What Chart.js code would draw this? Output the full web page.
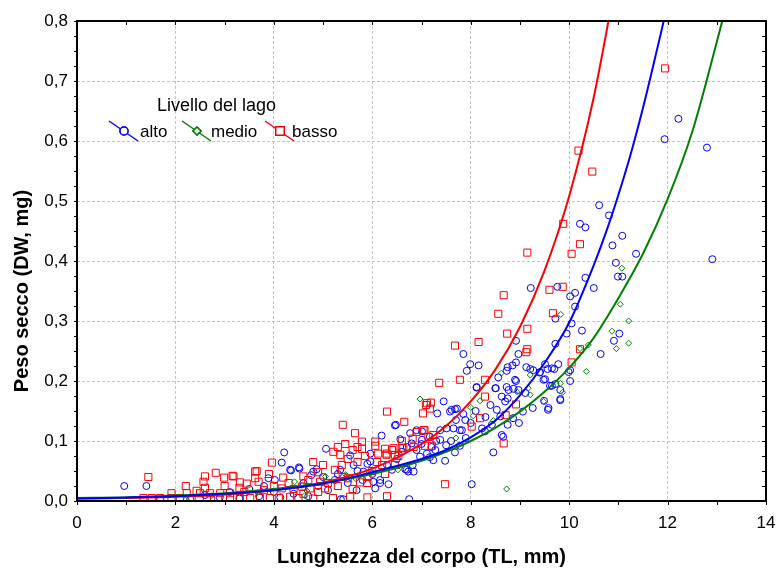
<!DOCTYPE html>
<html lang="it">
<head>
<meta charset="UTF-8">
<script src="https://cdn.jsdelivr.net/npm/chart.js"></script>
<style>
  body { margin: 0; background: #fff; }
  #wrap { width: 777px; height: 572px; }
</style>
</head>
<body>
<div id="wrap"><canvas id="chart" width="777" height="572"></canvas></div>
<script>
// tick labels
const xTickLabels = ["0", "2", "4", "6", "8", "10", "12", "14"];
const yTickLabels = ["0,0", "0,1", "0,2", "0,3", "0,4", "0,5", "0,6", "0,7", "0,8"];
const seriesNames = ["alto", "medio", "basso"];

// alto (blue circles): [TL mm, DW mg]
const altoPts = [
  [12.22,0.637],[11.94,0.603],[12.80,0.589],[12.91,0.403],
  [10.61,0.493],[10.81,0.476],[10.22,0.462],[10.33,0.456],[11.08,0.442],[10.88,0.426],[11.36,0.412],
  [10.95,0.397],[10.99,0.374],[11.08,0.374],[10.33,0.372],[10.50,0.355],[9.22,0.355],[9.76,0.357],
  [10.12,0.347],[10.02,0.341],[10.12,0.324],[9.72,0.304],[10.05,0.296],[9.95,0.279],[10.26,0.284],
  [11.02,0.279],[10.91,0.267],[9.72,0.262],[10.64,0.245],[8.92,0.267],[7.85,0.245],[8.97,0.245],
  [7.99,0.228],[8.16,0.226],[7.92,0.217],[8.75,0.223],[8.85,0.226],[8.92,0.231],[9.13,0.223],
  [9.21,0.220],[9.51,0.228],[9.56,0.220],[9.78,0.228],[9.70,0.220],[9.99,0.215],[10.02,0.200],
  [9.41,0.215],[9.51,0.203],[9.65,0.192],[9.72,0.195],[8.92,0.200],[8.56,0.206],[8.12,0.189],
  [8.51,0.188],[8.77,0.185],[8.87,0.187],[8.63,0.174],[8.70,0.166],[8.75,0.171],[9.26,0.155],
  [9.49,0.167],[9.57,0.152],[9.82,0.168],[8.53,0.152],[9.06,0.149],[8.60,0.141],[8.86,0.138],
  [8.98,0.130],[8.75,0.127],[8.43,0.127],[8.23,0.121],[8.29,0.116],[8.63,0.110],[8.66,0.107],
  [7.65,0.121],[7.82,0.118],[7.78,0.092],[8.46,0.081],[8.02,0.028],
  [8.73,0.217],[8.90,0.202],[8.73,0.190],[8.97,0.185],[9.11,0.180],[9.48,0.202],[9.61,0.192],
  [9.27,0.218],[9.40,0.214],[9.65,0.221],[9.82,0.185],[9.82,0.170],[9.58,0.155],[10.02,0.218],
  [7.45,0.166],[7.32,0.146],[7.61,0.152],[7.72,0.154],[7.85,0.145],[8.12,0.190],[7.48,0.067],
  [6.75,0.003],[5.41,0.003],[7.11,0.079],[7.24,0.068],[6.97,0.074],[6.70,0.052],[6.84,0.049],
  [6.02,0.032],[6.33,0.028],[6.16,0.035],[5.68,0.018],[6.06,0.021],[5.96,0.079],[5.62,0.060],
  [5.82,0.049],[7.01,0.102],[7.17,0.107],[7.38,0.118],[7.51,0.121],[6.70,0.090],[6.80,0.096],
  [6.48,0.127],[6.19,0.109],[6.57,0.103],[6.77,0.113],[7.58,0.149],[7.68,0.153],[7.78,0.118],
  [7.89,0.135],[6.90,0.118],[7.01,0.116],[6.46,0.126],[7.38,0.102],[7.50,0.093],[7.28,0.085],
  [7.17,0.073],[7.68,0.081],[6.82,0.060],[6.73,0.049],[6.67,0.053],[6.40,0.052],[8.50,0.188],
  [0.96,0.025],[1.41,0.025],[1.69,0.002],[3.89,0.038],[4.02,0.035],[4.21,0.081],[4.16,0.064],
  [4.51,0.056],[4.35,0.051],[5.06,0.087],[4.87,0.053],[5.55,0.076],[5.96,0.066],[4.33,0.052],
  [4.52,0.054],[4.76,0.043],[4.80,0.049],[5.36,0.003],[6.16,0.030],[4.13,0.006],[4.40,0.012],
  [5.24,0.035],[5.35,0.052],[2.30,0.003],[2.60,0.010],[2.90,0.006],[3.10,0.015],[3.30,0.004],
  [3.50,0.020],[3.70,0.008],[3.80,0.025],[4.00,0.015],[4.60,0.030],[4.70,0.008],[4.90,0.025],
  [5.00,0.040],[5.10,0.018],[5.30,0.045],[5.50,0.030],[5.70,0.050],[5.80,0.035],[5.90,0.062],
  [6.00,0.045],[6.30,0.060],[6.50,0.070],[6.60,0.082],[6.90,0.085],[7.00,0.095],[7.20,0.090],
  [7.30,0.100],[7.60,0.100],[7.90,0.105],[8.00,0.130],[8.30,0.140],[8.40,0.160],[8.10,0.150],
  [7.70,0.135]
];

// medio (green diamonds)
const medioPts = [
  [11.07,0.388],[11.04,0.328],[11.21,0.300],[9.83,0.311],[10.87,0.283],[11.21,0.263],[10.96,0.254],
  [10.22,0.254],[10.39,0.260],[10.35,0.216],[9.21,0.210],[8.62,0.213],[8.94,0.182],[9.17,0.188],
  [9.21,0.177],[8.19,0.167],[8.00,0.156],[8.05,0.142],[8.46,0.134],[9.48,0.166],[9.82,0.196],
  [9.87,0.181],[7.70,0.105],[8.73,0.020],[6.97,0.170],[6.52,0.052],[2.22,0.003],[2.74,0.009],
  [3.67,0.014],[4.42,0.032],[4.57,0.026],[4.67,0.017],[4.63,0.009],[5.05,0.041],[5.46,0.044],
  [5.67,0.037]
];

// basso (red squares)
const bassoPts = [
  [11.95,0.721],[10.19,0.584],[10.47,0.549],[9.88,0.462],[10.22,0.428],[10.05,0.412],[9.15,0.414],
  [9.60,0.352],[9.87,0.357],[8.67,0.343],[8.56,0.312],[9.67,0.313],[8.74,0.279],[9.15,0.287],
  [8.16,0.265],[7.68,0.259],[9.15,0.253],[9.13,0.248],[10.22,0.253],[10.05,0.231],[7.78,0.202],
  [8.29,0.202],[8.29,0.174],[8.92,0.161],[8.19,0.138],[8.02,0.124],[8.71,0.143],[8.67,0.096],
  [7.36,0.197],[7.09,0.160],[7.17,0.154],[7.03,0.146],[7.11,0.163],[7.19,0.164],[6.65,0.132],
  [6.30,0.149],[7.04,0.118],[6.82,0.104],[7.14,0.107],[7.21,0.092],[7.07,0.092],[6.60,0.089],
  [6.40,0.085],[6.26,0.087],[6.29,0.077],[6.53,0.075],[6.26,0.045],[6.46,0.060],[7.48,0.028],
  [5.40,0.127],[5.65,0.113],[5.79,0.099],[5.79,0.087],[5.21,0.082],[5.35,0.077],[5.38,0.060],
  [5.24,0.052],[6.06,0.092],[6.29,0.079],[6.12,0.079],[6.06,0.099],[6.43,0.088],[6.46,0.077],
  [6.84,0.090],[6.63,0.088],[7.24,0.110],[7.06,0.118],[5.30,0.090],[5.45,0.095],[5.70,0.090],
  [3.96,0.064],[4.19,0.039],[4.16,0.021],[4.33,0.007],[4.60,0.041],[4.57,0.024],[4.90,0.048],
  [4.94,0.032],[5.04,0.021],[5.51,0.038],[5.55,0.007],[5.75,0.031],[4.74,0.021],[1.45,0.040],
  [2.21,0.025],[2.82,0.047],[2.99,0.039],[3.16,0.042],[3.65,0.050],[2.60,0.041],[2.43,0.017],
  [2.57,0.032],[3.18,0.041],[3.31,0.031],[3.45,0.029],[3.62,0.049],[3.62,0.038],[3.69,0.032],
  [1.35,0.005],[1.52,0.005],[1.69,0.005],[1.92,0.005],[2.09,0.005],[2.33,0.005],[2.64,0.005],
  [2.87,0.005],[3.11,0.005],[3.31,0.005],[3.52,0.005],[3.72,0.005],[3.92,0.005],[4.10,0.005],
  [4.50,0.005],[4.80,0.004],[5.20,0.005],[5.90,0.006],[6.30,0.008],
  [1.92,0.013],[2.23,0.013],[2.50,0.013],[2.70,0.013],[2.91,0.013],[3.11,0.013],[3.40,0.015],
  [3.80,0.018],[4.00,0.025],[4.40,0.020],[4.60,0.012],[4.90,0.015],[5.10,0.030],[5.30,0.025],
  [5.60,0.020],[5.90,0.030],[6.00,0.050],[6.20,0.060],[5.70,0.065],[5.50,0.070],[5.00,0.060],
  [4.80,0.065],[5.60,0.085],[5.85,0.075],[6.60,0.100],[6.90,0.115],[6.10,0.065],[4.30,0.030],
  [3.90,0.045],[4.70,0.035],[5.40,0.040],[5.90,0.040],[3.00,0.025],[3.30,0.022],[2.60,0.022]
];

// fitted curves
const fitAlto = [[0,0.004],[1,0.006],[2,0.008],[3,0.012],[4,0.018],[5,0.029],[6,0.048],[7,0.070],
  [7.5,0.085],[8,0.106],[8.5,0.134],[9,0.176],[9.5,0.230],[10,0.297],[10.5,0.393],[10.75,0.448],
  [11,0.510],[11.25,0.578],[11.5,0.655],[11.75,0.740],[12,0.830],[12.2,0.920]];
const fitMedio = [[0,0.005],[1,0.006],[2,0.009],[3,0.013],[4,0.020],[5,0.030],[6,0.045],[7,0.067],
  [7.5,0.082],[8,0.100],[8.5,0.122],[9,0.149],[9.5,0.182],[10,0.222],[10.5,0.272],[11,0.338],
  [11.5,0.412],[12,0.503],[12.5,0.615],[13,0.765],[13.3,0.860]];
const fitBasso = [[0,0.004],[1,0.005],[2,0.007],[3,0.011],[4,0.018],[5,0.031],[6,0.054],[7,0.095],
  [7.5,0.125],[8,0.166],[8.5,0.219],[9,0.290],[9.5,0.384],[10,0.508],[10.5,0.673],[11,0.890]];

const BLUE = "#0000ff", GREEN = "#008000", RED = "#ff0000";
const FONT = "'Liberation Sans', Arial, sans-serif";
const toXY = pts => pts.map(p => ({ x: p[0], y: p[1] }));

function scatterSet(label, pts, color, style, radius, order) {
  return {
    label, data: toXY(pts), showLine: false, order,
    pointStyle: style, pointRadius: radius, pointHoverRadius: radius,
    pointBorderColor: color, pointBackgroundColor: "rgba(0,0,0,0)", pointBorderWidth: 1
  };
}
function curveSet(pts, color) {
  return {
    data: toXY(pts), showLine: true, order: 0, borderColor: color, borderWidth: 2,
    pointRadius: 0, cubicInterpolationMode: "monotone", fill: false
  };
}

// frame, small ticks, legend and axis titles
const decor = {
  id: "decor",
  afterDraw(chart) {
    const { ctx, chartArea: a, scales: { x, y } } = chart;
    ctx.save();
    ctx.strokeStyle = "#000";
    ctx.lineWidth = 1;
    ctx.beginPath();
    for (let v = 0; v <= 14; v++) {
      const px = Math.round(x.getPixelForValue(v)) + 0.5;
      ctx.moveTo(px, a.bottom); ctx.lineTo(px, a.bottom + 4);
      ctx.moveTo(px, a.top); ctx.lineTo(px, a.top + 4);
    }
    for (let i = 0; i <= 32; i++) {
      const py = Math.round(y.getPixelForValue(i * 0.025)) + 0.5;
      ctx.moveTo(a.left - 3, py); ctx.lineTo(a.left, py);
      ctx.moveTo(a.right - 4, py); ctx.lineTo(a.right, py);
    }
    ctx.stroke();
    ctx.lineWidth = 2;
    ctx.strokeRect(a.left, a.top, a.right - a.left, a.bottom - a.top);

    // legend
    ctx.fillStyle = "#000";
    ctx.font = "18px " + FONT;
    ctx.textBaseline = "alphabetic";
    ctx.textAlign = "left";
    ctx.fillText("Livello del lago", 157, 111);
    ctx.font = "17px " + FONT;
    const items = [
      { x: 109, color: BLUE, style: "circle", r: 4, tx: 140 },
      { x: 182, color: GREEN, style: "rectRot", r: 4, tx: 211 },
      { x: 265, color: RED, style: "rect", r: 6, tx: 292 }
    ];
    items.forEach((it, i) => {
      ctx.strokeStyle = it.color;
      ctx.lineWidth = 1.5;
      ctx.beginPath();
      ctx.moveTo(it.x, 121); ctx.lineTo(it.x + 29, 141);
      ctx.stroke();
      ctx.fillStyle = "#fff";
      Chart.helpers.drawPoint(ctx, { pointStyle: it.style, radius: it.r, borderWidth: 1.5 }, it.x + 15, 131);
      ctx.fill();
      ctx.stroke();
      ctx.fillStyle = "#000";
      ctx.fillText(seriesNames[i], it.tx, 137);
    });

    // axis titles
    ctx.font = "bold 20px " + FONT;
    ctx.textAlign = "center";
    ctx.textBaseline = "middle";
    ctx.fillText("Lunghezza del corpo (TL, mm)", (a.left + a.right) / 2, 557);
    ctx.translate(22, 291);
    ctx.rotate(-Math.PI / 2);
    ctx.fillText("Peso secco (DW, mg)", 0, 0);
    ctx.restore();
  }
};

new Chart(document.getElementById("chart"), {
  type: "scatter",
  data: {
    datasets: [
      curveSet(fitAlto, BLUE),
      curveSet(fitMedio, GREEN),
      curveSet(fitBasso, RED),
      scatterSet("medio", medioPts, GREEN, "rectRot", 3, 1),
      scatterSet("basso", bassoPts, RED, "rect", 5, 2),
      scatterSet("alto", altoPts, BLUE, "circle", 3.5, 3)
    ]
  },
  options: {
    responsive: false,
    animation: false,
    events: [],
    layout: { padding: { top: 21, right: 11, left: 0, bottom: 0 } },
    plugins: { legend: { display: false }, tooltip: { enabled: false } },
    scales: {
      x: {
        type: "linear", min: 0, max: 14,
        afterFit(s) { s.height = 71; s.paddingLeft = 0; s.paddingRight = 0; },
        grid: { color: "#c4c4c4", lineWidth: 1, drawTicks: false },
        border: { display: false, dash: [3, 2] },
        ticks: {
          stepSize: 2, padding: 12, color: "#000",
          font: { family: FONT, size: 17 },
          callback: (v, i) => xTickLabels[i]
        }
      },
      y: {
        type: "linear", min: 0, max: 0.8,
        afterFit(s) { s.width = 77; s.paddingTop = 0; s.paddingBottom = 0; },
        grid: { color: "#c4c4c4", lineWidth: 1, drawTicks: false },
        border: { display: false, dash: [3, 2] },
        ticks: {
          stepSize: 0.1, padding: 9, color: "#000",
          font: { family: FONT, size: 17 },
          callback: (v, i) => yTickLabels[i]
        }
      }
    }
  },
  plugins: [decor]
});
</script>
</body>
</html>
